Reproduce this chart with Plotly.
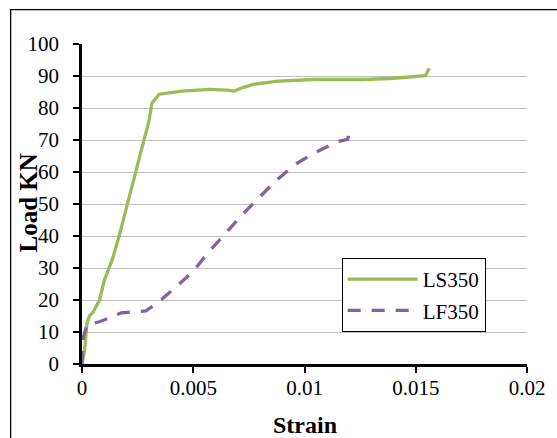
import plotly.graph_objects as go

# Load-strain curves for the two specimens
ls350_strain = [0, 0.00012, 0.00022, 0.00034, 0.00049, 0.00079, 0.00101, 0.00138,
                0.00168, 0.00205, 0.00243, 0.0028, 0.00302, 0.00314, 0.00329, 0.00347,
                0.0045, 0.0057, 0.0065, 0.00685, 0.0072, 0.0077, 0.00882, 0.01045,
                0.01269, 0.01402, 0.01543, 0.01561]
ls350_load = [0, 4.4, 12.7, 15.1, 16.1, 20, 26.3, 33, 40.3, 50.2, 60.6, 71, 76.25,
              81.5, 82.7, 84.3, 85.3, 85.8, 85.6, 85.3, 86.3, 87.4, 88.4, 88.9, 88.9,
              89.3, 90.1, 92.4]

lf350_strain = [0, 0.00005, 0.00022, 0.00079, 0.00176, 0.00287, 0.00339, 0.00376,
                0.00458, 0.0051, 0.00577, 0.00651, 0.00726, 0.00793, 0.00867, 0.00956,
                0.01045, 0.0115, 0.01194, 0.01201]
lf350_load = [0, 8, 12.3, 13.2, 16.0, 16.6, 19.0, 21.3, 26.3, 29.9, 35.6, 41.3, 47.1,
              51.8, 57.0, 62.3, 66.0, 69.5, 70.2, 72.3]

series_names = ["LS350", "LF350"]
x_ticks = [0, 0.005, 0.01, 0.015, 0.02]
x_tick_text = ["0", "0.005", "0.01", "0.015", "0.02"]

FONT = "Times New Roman, Liberation Serif, serif"
W, H = 557, 438
ML, MR, MT, MB = 82, 26, 44, 74
PW, PH = W - ML - MR, H - MT - MB

def px_to_paper_x(px):
    return (px - ML) / PW

def px_to_paper_y(py):
    return (H - MB - py) / PH

fig = go.Figure()
fig.add_trace(go.Scatter(
    x=ls350_strain, y=ls350_load, mode="lines", name=series_names[0],
    legendgroup="a",
    line=dict(color="#9BBB59", width=3.3),
))
fig.add_trace(go.Scatter(
    x=lf350_strain, y=lf350_load, mode="lines", name=series_names[1],
    legendgroup="b",
    line=dict(color="#8064A2", width=3.3, dash="13px,11px"),
))

axis_common = dict(
    showline=True, linecolor="black", linewidth=2.5,
    ticks="outside", ticklen=6, tickwidth=2, tickcolor="black",
    tickfont=dict(family=FONT, size=21, color="black"),
    zeroline=False,
)

fig.update_xaxes(range=[0, 0.02], tickvals=x_ticks, ticktext=x_tick_text,
                 showgrid=False, ticklabelstandoff=-3, **axis_common)
fig.update_yaxes(range=[0, 100], dtick=10, showgrid=True, gridcolor="#BFBFBF",
                 gridwidth=1, ticklabelstandoff=10, **axis_common)

fig.update_layout(
    width=W, height=H,
    margin=dict(l=ML, r=MR, t=MT, b=MB, pad=0),
    paper_bgcolor="white", plot_bgcolor="white",
    font=dict(family=FONT, color="black"),
    showlegend=True,
    legend=dict(
        x=px_to_paper_x(344), y=px_to_paper_y(258), xanchor="left", yanchor="top",
        bgcolor="white", bordercolor="black", borderwidth=1,
        font=dict(family=FONT, size=21, color="black"),
        traceorder="grouped", tracegroupgap=1, itemwidth=70,
    ),
    annotations=[
        dict(text="<b>Load KN</b>", textangle=-90, xref="paper", yref="paper",
             x=px_to_paper_x(28.5), y=px_to_paper_y(202.5), xanchor="center",
             yanchor="middle", showarrow=False,
             font=dict(family=FONT, size=25, color="black")),
        dict(text="<b>Strain</b>", xref="paper", yref="paper",
             x=px_to_paper_x(306.5), y=px_to_paper_y(425), xanchor="center",
             yanchor="middle", showarrow=False,
             font=dict(family=FONT, size=24, color="black")),
    ],
    shapes=[
        dict(type="rect", xref="paper", yref="paper",
             x0=px_to_paper_x(10), x1=px_to_paper_x(600),
             y0=px_to_paper_y(480), y1=px_to_paper_y(9.5),
             line=dict(color="black", width=1.25), fillcolor="rgba(0,0,0,0)",
             layer="below"),
    ],
)

fig.write_html("out.html")
